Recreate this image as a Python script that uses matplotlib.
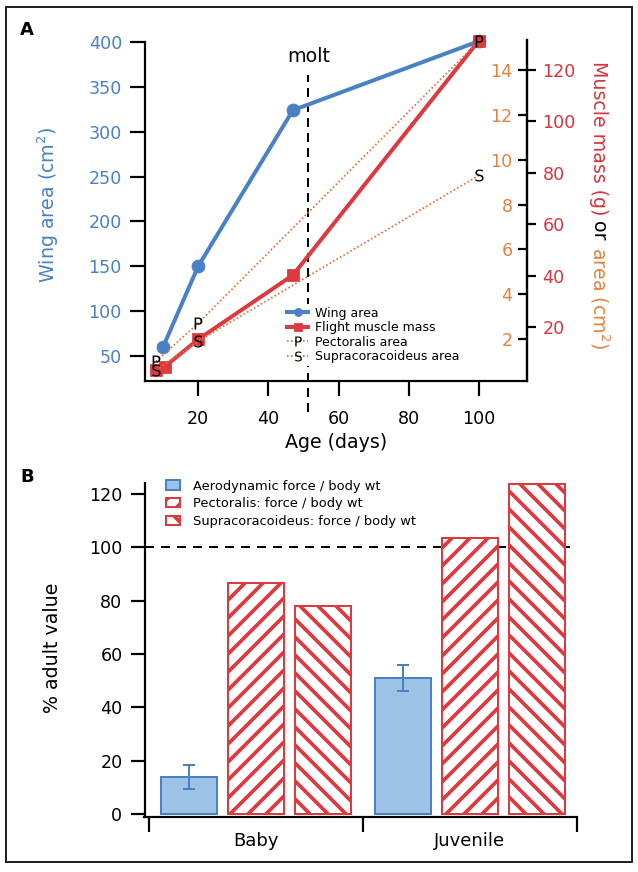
import numpy as np
import matplotlib
matplotlib.use('Agg')
import matplotlib.pyplot as plt
from matplotlib.patches import Rectangle
from matplotlib.lines import Line2D

# ---------------- data ----------------
wing_days = [10, 20, 47, 100]
wing_area = [60, 150, 324, 401]

muscle_days = [8, 10.5, 20, 47, 100]
muscle_mass = [3.3, 4.6, 15.2, 40.2, 131.5]

pect_days = [8, 20, 100]
pect_area = [1.0, 2.7, 15.3]

supra_days = [8, 20, 100]
supra_area = [0.6, 1.9, 9.3]

molt_day = 51.4

left_ticks = [50, 100, 150, 200, 250, 300, 350, 400]
x_ticks_a = [20, 40, 60, 80, 100]
orange_ticks = [2, 4, 6, 8, 10, 12, 14]
red_ticks = [20, 40, 60, 80, 100, 120]

groups = ['Baby', 'Juvenile']
aero = [14, 51]
aero_err = [4.5, 4.7]
pect_force = [86.7, 103.4]
supra_force = [78, 123.7]
b_ticks = [0, 20, 40, 60, 80, 100, 120]
bar_labels = ['Aerodynamic force / body wt', 'Pectoralis: force / body wt',
              'Supracoracoideus: force / body wt']
line_labels = ['Wing area', 'Flight muscle mass', 'Pectoralis area', 'Supracoracoideus area']

# ---------------- style ----------------
DPI = 54
W, H = 638, 872
def pt(v):
    return v * 72.0 / DPI

blue = '#4a80c4'
lightblue = '#9cc3e5'
red = '#dc3a3f'
redtxt = '#d8353d'
orange = '#e4823f'
orange_line = '#e07038'

plt.rcParams['font.family'] = ['DejaVu Sans']
plt.rcParams['mathtext.default'] = 'regular'
plt.rcParams['hatch.linewidth'] = pt(3.7)
plt.rcParams['hatch.color'] = red
plt.rcParams['lines.scale_dashes'] = False

fig = plt.figure(figsize=(W / DPI, H / DPI), dpi=DPI)

def rect(l, t, r, b):
    return [l / W, 1 - b / H, (r - l) / W, (b - t) / H]

# ---------------- Panel A ----------------
axA = fig.add_axes(rect(145, 40, 527, 381))
axA.set_xlim(4.86, 113.7)
axA.set_ylim(22.1, 402.3)
axA.plot(wing_days, wing_area, color=blue, lw=pt(4), marker='o', ms=pt(13),
         zorder=3, clip_on=False)
axA.axvline(molt_day, ymin=-0.091, ymax=0.897, color='black', lw=pt(2),
            dashes=(pt(9), pt(6)), clip_on=False, zorder=1)
axA.text(molt_day, 0.9355, 'molt', transform=axA.get_xaxis_transform(),
         ha='center', va='baseline', fontsize=pt(19))

for s in ['top', 'right']:
    axA.spines[s].set_visible(False)
for s in ['left', 'bottom']:
    axA.spines[s].set_linewidth(pt(2.2))
axA.spines['left'].set_bounds(22.1, 400)
axA.set_xticks(x_ticks_a)
axA.set_yticks(left_ticks)
axA.tick_params(axis='x', length=pt(15), width=pt(2.2), pad=pt(14), labelsize=pt(17.5))
axA.tick_params(axis='y', length=pt(15), width=pt(2.2), pad=pt(8), labelsize=pt(17.5),
                labelcolor=blue)

# red axis (muscle mass)
axR = axA.twinx()
axR.set_ylim(-1.0, 131.7)
axR.plot(muscle_days, muscle_mass, color=red, lw=pt(4), marker='s', ms=pt(13),
         zorder=3, clip_on=False)
for s in ['top', 'left', 'bottom']:
    axR.spines[s].set_visible(False)
axR.spines['right'].set_linewidth(pt(2.2))
axR.set_yticks(red_ticks)
axR.tick_params(axis='y', length=pt(9), width=pt(2.2), pad=pt(6.5), labelsize=pt(17.5),
                labelcolor=redtxt, direction='out')

# orange axis (area)
ax3 = axA.twinx()
ax3.set_ylim(0.125, 15.34)
ax3.yaxis.set_ticks_position('left')
ax3.spines['left'].set_position(('axes', 1.0))
for s in ['top', 'right', 'bottom']:
    ax3.spines[s].set_visible(False)
ax3.spines['left'].set_linewidth(pt(2.2))
ax3.set_yticks(orange_ticks)
ax3.tick_params(axis='y', length=pt(9), width=pt(2.2), pad=pt(5.3), labelsize=pt(17.5),
                labelcolor=orange, direction='out')
dot = (0, (pt(1.6), pt(2.4)))
ax3.plot(pect_days, pect_area, color=orange_line, lw=pt(1.8), linestyle=dot,
         marker=r'$P$', ms=pt(12), mfc='black', mec='black', mew=0, clip_on=False, zorder=4)
ax3.plot(supra_days, supra_area, color=orange_line, lw=pt(1.8), linestyle=dot,
         marker=r'$S$', ms=pt(12), mfc='black', mec='black', mew=0, clip_on=False, zorder=4)

handles = [
    Line2D([], [], color=blue, lw=pt(4), marker='o', ms=pt(8)),
    Line2D([], [], color=red, lw=pt(4), marker='s', ms=pt(8)),
    Line2D([], [], color=orange_line, lw=pt(1.8), linestyle=dot, marker=r'$P$',
           ms=pt(10), mfc='black', mec='black', mew=0),
    Line2D([], [], color=orange_line, lw=pt(1.8), linestyle=dot, marker=r'$S$',
           ms=pt(10), mfc='black', mec='black', mew=0),
]
legA = ax3.legend(handles, line_labels, loc='upper left',
                  bbox_to_anchor=(284.5 / W, 1 - 304 / H), bbox_transform=fig.transFigure,
                  fontsize=pt(12.5), frameon=True, fancybox=False, edgecolor='none',
                  facecolor='white', framealpha=1, borderpad=0.2, labelspacing=0.12,
                  handlelength=1.7, handletextpad=0.55, borderaxespad=0)

# axis labels panel A
fig.text(48 / W, 1 - 205 / H, 'Wing area (cm$^2$)', rotation=90, ha='center', va='center',
         color=blue, fontsize=pt(19))
fig.text(336 / W, 1 - 443 / H, 'Age (days)', ha='center', va='center', fontsize=pt(19))

renderer = fig.canvas.get_renderer()
xb = 593 / W
ycur = 1 - 61 / H
gap = 6
for txt, col in [('Muscle mass (g)', redtxt), ('or', 'black'), ('area (cm$^2$)', orange)]:
    t = fig.text(xb, ycur, txt, rotation=270, rotation_mode='anchor', ha='left',
                 va='baseline', color=col, fontsize=pt(19))
    bb = t.get_window_extent(renderer)
    ycur = (bb.y0 - gap) / H

fig.text(20 / W, 1 - 35 / H, 'A', fontweight='bold', fontsize=pt(18), va='baseline')

# ---------------- Panel B ----------------
axB = fig.add_axes(rect(144.5, 483, 577, 817))
x = np.arange(len(groups))
off = 0.313
bw = 0.262
b1 = axB.bar(x - off, aero, bw, yerr=aero_err, color=lightblue, edgecolor=blue,
             lw=pt(2), zorder=3,
             error_kw=dict(ecolor=blue, elinewidth=pt(2), capsize=pt(6.5),
                           capthick=pt(2), zorder=4))
b2 = axB.bar(x, pect_force, bw, color='white', edgecolor=red, hatch='/', lw=pt(2), zorder=3)
b3 = axB.bar(x + off, supra_force, bw, color='white', edgecolor=red, hatch='\\', lw=pt(2),
             zorder=3)
axB.axhline(100, color='black', lw=pt(2), dashes=(pt(9), pt(7)), zorder=1)

axB.set_xlim(-0.519, 1.5)
axB.set_ylim(-1, 124)
for s in ['top', 'right']:
    axB.spines[s].set_visible(False)
for s in ['left', 'bottom']:
    axB.spines[s].set_linewidth(pt(2.2))
axB.set_yticks(b_ticks)
axB.tick_params(axis='y', length=pt(14), width=pt(2.2), pad=pt(8), labelsize=pt(17.5))
axB.set_xticks([-0.5, 0.5, 1.5])
axB.set_xticklabels([])
axB.set_xticks(x, minor=True)
axB.set_xticklabels(groups, minor=True)
axB.tick_params(axis='x', which='major', length=pt(15), width=pt(2.2))
axB.tick_params(axis='x', which='minor', length=0, pad=pt(15), labelsize=pt(18))

axB.legend([b1, b2, b3], bar_labels, loc='upper left',
           bbox_to_anchor=(166 / W, 1 - 479.5 / H), bbox_transform=fig.transFigure,
           frameon=False, borderpad=0, handlelength=1.08, handleheight=0.7,
           handletextpad=1.0, labelspacing=0.36, fontsize=pt(13), borderaxespad=0)

fig.text(53 / W, 1 - 648 / H, '% adult value', rotation=90, ha='center', va='center',
         fontsize=pt(19))
fig.text(20 / W, 1 - 482 / H, 'B', fontweight='bold', fontsize=pt(18), va='baseline')

# figure border
fig.add_artist(Rectangle((6 / W, 1 - 862 / H), 626 / W, 855 / H, transform=fig.transFigure,
                         fill=False, lw=pt(2), edgecolor='#222222'))

fig.savefig('out.png', dpi=DPI)
